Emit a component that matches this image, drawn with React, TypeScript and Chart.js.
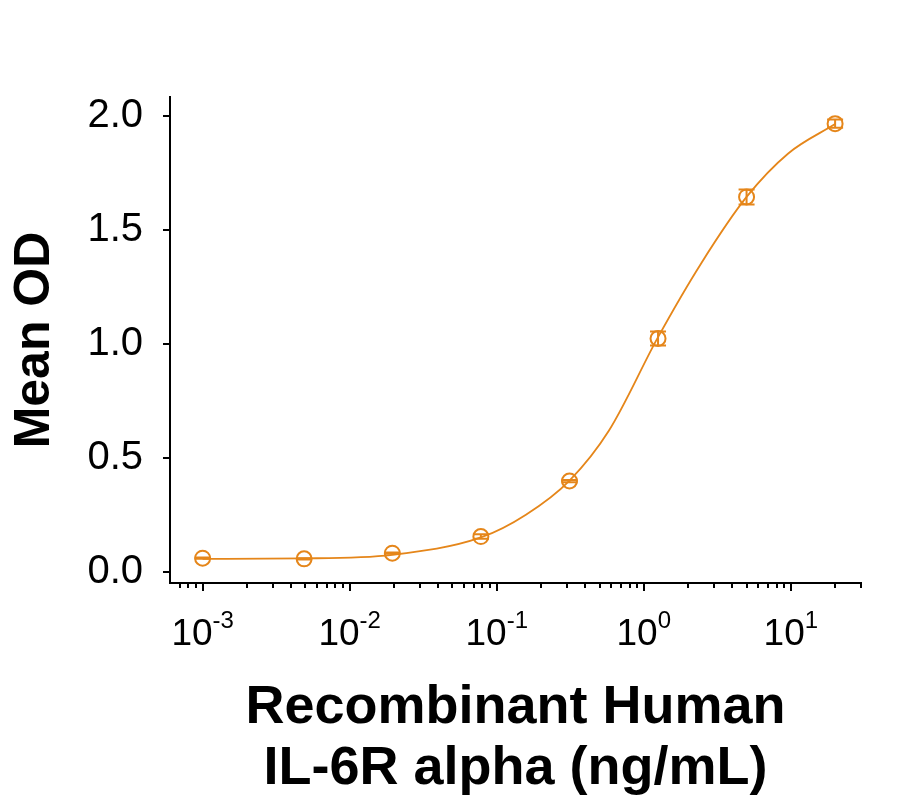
import React, { useEffect, useRef } from 'react';
import { Chart, registerables } from 'chart.js';

Chart.register(...registerables);

// ---- data ----
const CONC = [0.001, 0.0049, 0.0195, 0.078, 0.3125, 1.25, 5, 20];
const MEAN_OD = [0.059, 0.056, 0.081, 0.154, 0.398, 1.024, 1.646, 1.968];
const SD = [0.003, 0.003, 0.003, 0.01, 0.005, 0.031, 0.033, 0.018];
// fitted curve at several concentrations
const CURVE_X = [0.001, 0.0049, 0.0195, 0.078, 0.158, 0.3125, 0.58, 1.25, 2.46, 5, 9.6, 20];
const CURVE_Y = [0.056, 0.058, 0.074, 0.15, 0.25, 0.40, 0.62, 1.03, 1.355, 1.646, 1.837, 1.966];
const Y_TICKS = [0, 0.5, 1.0, 1.5, 2.0];
const X_MAJOR_EXP = [-3, -2, -1, 0, 1];
const X_TITLE = ['Recombinant Human', 'IL-6R alpha (ng/mL)'];
const Y_TITLE = 'Mean OD';

const X_MIN = 0.0006;
const X_MAX = 30;
const Y_MIN = -0.05;
const Y_MAX = 2.085;

const ORANGE = '#E5861A';
const FONT = "'Liberation Sans', Arial, sans-serif";

const errorBarPlugin = {
  id: 'errorBars',
  afterDatasetsDraw(chart: any) {
    const sx = chart.scales.x;
    const sy = chart.scales.y;
    const ctx = chart.ctx;
    ctx.save();
    ctx.strokeStyle = ORANGE;
    ctx.lineWidth = 2;
    CONC.forEach((c, i) => {
      const px = sx.getPixelForValue(c);
      const top = sy.getPixelForValue(MEAN_OD[i] + SD[i]);
      const bot = sy.getPixelForValue(MEAN_OD[i] - SD[i]);
      ctx.beginPath();
      ctx.moveTo(px, top);
      ctx.lineTo(px, bot);
      ctx.moveTo(px - 8, top);
      ctx.lineTo(px + 8, top);
      ctx.moveTo(px - 8, bot);
      ctx.lineTo(px + 8, bot);
      ctx.stroke();
    });
    ctx.restore();
  },
};

const xAxisPlugin = {
  id: 'xLogAxis',
  afterDraw(chart: any) {
    const sx = chart.scales.x;
    const ctx = chart.ctx;
    const y0 = sx.top;
    ctx.save();
    ctx.strokeStyle = '#000';
    ctx.lineWidth = 2;
    for (let e = -4; e <= 1; e++) {
      for (let m = 1; m <= 9; m++) {
        const v = m * Math.pow(10, e);
        if (v < X_MIN * 1.01 || v > X_MAX * 1.001) continue;
        const px = Math.round(sx.getPixelForValue(v));
        const len = m === 1 ? 8 : 5;
        ctx.beginPath();
        ctx.moveTo(px, y0);
        ctx.lineTo(px, y0 + len);
        ctx.stroke();
      }
    }
    ctx.fillStyle = '#000';
    ctx.textBaseline = 'alphabetic';
    ctx.textAlign = 'left';
    const baseFont = `37px ${FONT}`;
    const supFont = `24px ${FONT}`;
    X_MAJOR_EXP.forEach((e) => {
      const px = sx.getPixelForValue(Math.pow(10, e));
      const exp = String(e);
      ctx.font = baseFont;
      const w1 = ctx.measureText('10').width;
      ctx.font = supFont;
      const w2 = ctx.measureText(exp).width;
      const x0 = px - (w1 + w2) / 2;
      ctx.font = baseFont;
      ctx.fillText('10', x0, 645);
      ctx.font = supFont;
      ctx.fillText(exp, x0 + w1, 628);
    });
    ctx.restore();
  },
};

export default function App() {
  const ref = useRef<HTMLCanvasElement | null>(null);
  useEffect(() => {
    document.body.style.margin = '0';
    const canvas = ref.current!;
    const chart = new Chart(canvas, {
      type: 'line',
      data: {
        datasets: [
          {
            data: CURVE_X.map((c, i) => ({ x: c, y: CURVE_Y[i] })),
            borderColor: ORANGE,
            borderWidth: 1.8,
            cubicInterpolationMode: 'monotone',
            pointRadius: 0,
            fill: false,
          },
          {
            data: CONC.map((c, i) => ({ x: c, y: MEAN_OD[i] })),
            showLine: false,
            pointRadius: 7.5,
            pointBorderWidth: 2,
            pointBorderColor: ORANGE,
            pointBackgroundColor: 'rgba(0,0,0,0)',
            borderColor: ORANGE,
            fill: false,
          },
        ],
      },
      options: {
        animation: false,
        responsive: false,
        devicePixelRatio: 1,
        layout: { padding: { top: 97, right: 46, left: 0, bottom: 0 } },
        plugins: { legend: { display: false }, tooltip: { enabled: false } },
        scales: {
          x: {
            type: 'logarithmic',
            min: X_MIN,
            max: X_MAX,
            grid: { display: false },
            border: { display: true, color: '#000', width: 2 },
            ticks: { display: false },
            afterFit: (scale: any) => {
              scale.height = 222;
            },
            title: {
              display: true,
              text: X_TITLE,
              color: '#000',
              font: { family: FONT, size: 54, weight: 'bold', lineHeight: 61 / 54 },
              padding: { top: 0, bottom: 5 },
            },
          },
          y: {
            type: 'linear',
            min: Y_MIN,
            max: Y_MAX,
            afterBuildTicks: (scale: any) => {
              scale.ticks = Y_TICKS.map((v) => ({ value: v }));
            },
            afterFit: (scale: any) => {
              scale.width = 170;
            },
            grid: {
              drawOnChartArea: false,
              drawTicks: true,
              tickLength: 7,
              color: '#000',
              lineWidth: 2,
            },
            border: { display: true, color: '#000', width: 2 },
            ticks: {
              color: '#000',
              padding: 20,
              font: { family: FONT, size: 40 },
              callback: (v: any) => Number(v).toFixed(1),
            },
            title: {
              display: true,
              text: Y_TITLE,
              color: '#000',
              font: { family: FONT, size: 50, weight: 'bold', lineHeight: 1.2 },
              padding: { top: 5, bottom: 0 },
            },
          },
        },
      },
      plugins: [errorBarPlugin, xAxisPlugin],
    } as any);
    return () => chart.destroy();
  }, []);
  return (
    <div style={{ width: 907, height: 805, background: '#fff' }}>
      <canvas ref={ref} width={907} height={805} style={{ display: 'block' }} />
    </div>
  );
}
